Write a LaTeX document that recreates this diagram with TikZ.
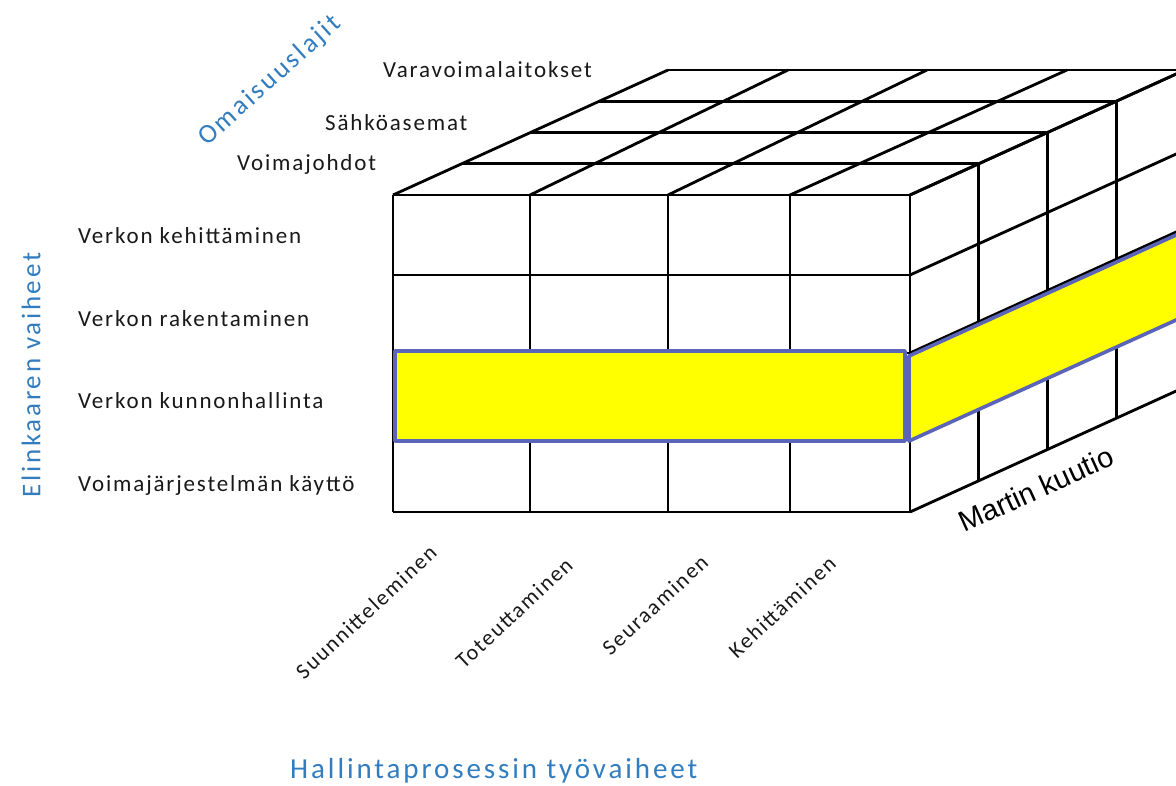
\documentclass[tikz,border=0pt]{standalone}
\usepackage{fontspec}
\newfontfamily\lblfont[LetterSpace=8]{Carlito}
\newfontfamily\ttlfont[LetterSpace=10]{Carlito}
\newfontfamily\arialfont{Liberation Sans}
\definecolor{ttlblue}{RGB}{50,125,192}
\definecolor{bandblue}{RGB}{90,100,184}
\definecolor{bandyellow}{RGB}{255,255,0}
\definecolor{lblgray}{RGB}{25,25,25}
\begin{document}
\begin{tikzpicture}[x=1pt,y=-1pt,
  gridline/.style={line width=2.8pt,black},
  band/.style={line width=3.6pt,draw=bandblue,fill=bandyellow,line join=round},
  rowlbl/.style={anchor=base west,inner sep=0pt,text=lblgray,font=\lblfont\fontsize{23}{27}\selectfont},
  collbl/.style={anchor=center,inner sep=0pt,rotate=43,text=lblgray,font=\lblfont\fontsize{22}{26}\selectfont},
  ttl/.style={inner sep=0pt,text=ttlblue,font=\ttlfont\fontsize{27}{31}\selectfont}]
\useasboundingbox (0,0) rectangle (1176,785);
\fill[white] (0,0) rectangle (1176,785);
\begin{scope}
\clip (0,0) rectangle (1176,785);
% top face: slanted column lines
\foreach \xc/\oc in {393/275,530/258,668/259,790/277,910/275}
  \draw[gridline] (\xc,195) -- ({\xc+\oc},70);
% top face: depth lines
\foreach \k in {1,...,4}
  \draw[gridline] ({393+68.75*\k},{195-31.25*\k}) -- ({910+68.75*\k},{195-31.25*\k});
% right face: verticals
\foreach \k in {1,...,4}
  \draw[gridline] ({910+68.75*\k},{195-31.25*\k}) -- ({910+68.75*\k},{512-31.25*\k});
% right face: row lines
\foreach \yy in {195,275,353,440,512}
  \draw[gridline] (910,\yy) -- (1185,{\yy-125});
% front face
\foreach \xx in {393,530,668,790,910}
  \draw[gridline] (\xx,195) -- (\xx,512);
\foreach \yy in {195,275,353,440,512}
  \draw[gridline] (393,\yy) -- (910,\yy);
% highlighted band
\draw[band] (395,351) rectangle (905,441);
\draw[band] (909,356) -- (1185,231) -- (1185,316) -- (909,441) -- cycle;
\end{scope}
% depth labels
\node[rowlbl] (dVara) at (383,77) {Varavoimalaitokset};
\node[rowlbl] (dSahko) at (325,130) {Sähköasemat};
\node[rowlbl] (dVoima) at (237,170) {Voimajohdot};
% row labels
\node[rowlbl] (rKeh) at (78,243) {Verkon kehittäminen};
\node[rowlbl] (rRak) at (78,326) {Verkon rakentaminen};
\node[rowlbl] (rKun) at (78,408) {Verkon kunnonhallinta};
\node[rowlbl] (rKay) at (78,491) {Voimajärjestelmän käyttö};
% column labels
\node[collbl] (cSuu) at (366,612) {Suunnitteleminen};
\node[collbl] (cTot) at (514,613) {Toteuttaminen};
\node[collbl] (cSeu) at (655,605) {Seuraaminen};
\node[collbl] (cKeh) at (782,607) {Kehittäminen};
% titles
\node[ttl,rotate=42] (tOma) at (270,81) {Omaisuuslajit};
\node[ttl,rotate=90] (tEli) at (31,375) {Elinkaaren vaiheet};
\node[ttl,anchor=base west,font=\ttlfont\fontsize{29}{33}\selectfont] (tHal) at (290,778) {Hallintaprosessin työvaiheet};
\node[inner sep=0pt,rotate=24.4,font=\arialfont\fontsize{29}{33}\selectfont] (mk) at (1036,489) {Martin kuutio};
\end{tikzpicture}
\end{document}
